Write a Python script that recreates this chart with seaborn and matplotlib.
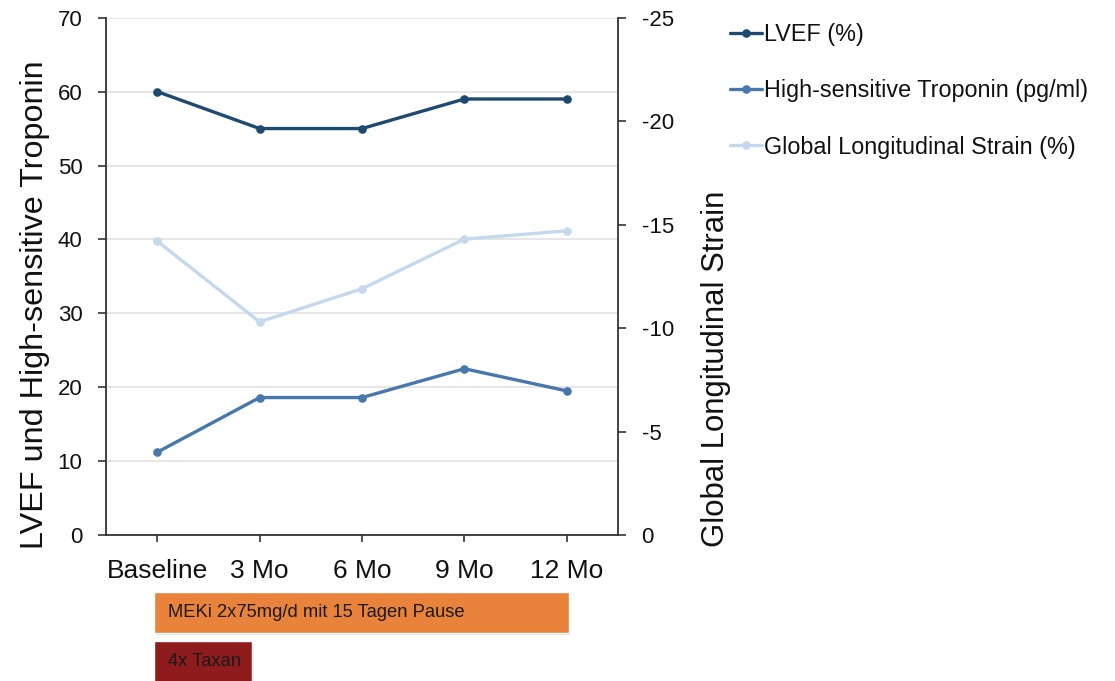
import matplotlib
matplotlib.use("Agg")
import matplotlib.pyplot as plt
import matplotlib.patheffects as pe
import numpy as np
import pandas as pd
import seaborn as sns

# Follow-up time points
timepoints = ["Baseline", "3 Mo", "6 Mo", "9 Mo", "12 Mo"]

# Measurements per time point
lvef = [60, 55, 55, 59, 59]                      # LVEF (%)
troponin = [11.2, 18.6, 18.6, 22.5, 19.5]         # hs-Troponin (pg/ml)
gls = [-14.2, -10.3, -11.9, -14.3, -14.7]         # Global Longitudinal Strain (%)

series_names = ["LVEF (%)", "High-sensitive Troponin (pg/ml)",
                "Global Longitudinal Strain (%)"]
series_colors = ["#1f4a70", "#4878ab", "#c4d8ee"]

# Therapy phases (start / end in time-point units)
therapy_labels = ["MEKi 2x75mg/d mit 15 Tagen Pause", "4x Taxan"]
therapy_start = [-0.03, -0.03]
therapy_end = [4.02, 0.93]
therapy_colors = ["#e9823a", "#8e1c1c"]

sns.set_theme(style="white")
plt.rcParams["font.family"] = ["Liberation Sans", "DejaVu Sans"]
plt.rcParams["axes.unicode_minus"] = False
plt.rcParams["text.color"] = "#111111"
plt.rcParams["axes.labelcolor"] = "#111111"
plt.rcParams["xtick.color"] = "#111111"
plt.rcParams["ytick.color"] = "#111111"

W, H = 1115, 681
fig = plt.figure(figsize=(W / 100, H / 100), dpi=100)

def frac(x0, y0, x1, y1):
    return [x0 / W, 1 - y1 / H, (x1 - x0) / W, (y1 - y0) / H]

ax = fig.add_axes(frac(106, 17.7, 618, 535))
ax2 = ax.twinx()

x = np.arange(len(timepoints))
df_left = pd.DataFrame({
    "t": np.concatenate([x, x]),
    "value": lvef + troponin,
    "series": [series_names[0]] * len(x) + [series_names[1]] * len(x),
})
df_right = pd.DataFrame({"t": x, "value": gls, "series": series_names[2]})

sns.lineplot(data=df_left, x="t", y="value", hue="series",
             palette=series_colors[:2], marker="o", markersize=6.2,
             markeredgewidth=0, linewidth=2.4, ax=ax, legend=False)
sns.lineplot(data=df_right, x="t", y="value", hue="series",
             palette=series_colors[2:], marker="o", markersize=6.2,
             markeredgewidth=0, linewidth=2.4, ax=ax2, legend=False)

# Left axis
ax.set_xlim(-0.5, len(timepoints) - 0.5)
ax.set_ylim(0, 70)
ax.set_yticks(range(0, 71, 10))
ax.set_xticks(x)
ax.set_xticklabels(timepoints)
ax.yaxis.grid(True, color="#e2e2e2", linewidth=1.2)
ax.set_axisbelow(True)
ax.set_xlabel("")
ax.set_ylabel("LVEF und High-sensitive Troponin", fontsize=23.3)
ax.yaxis.set_label_coords(-0.109, 0.445)
ax.tick_params(axis="y", labelsize=16, length=6, width=1.2, color="#333333",
               pad=11, left=True)
ax.tick_params(axis="x", labelsize=19, length=5, width=1.2, color="#333333",
               pad=12, bottom=True)

# Right axis (inverted strain scale)
ax2.set_ylim(0, -25)
ax2.set_yticks([0, -5, -10, -15, -20, -25])
ax2.set_ylabel("Global Longitudinal Strain", fontsize=22.4)
ax2.yaxis.set_label_coords(1.162, 0.321)
ax2.tick_params(axis="y", labelsize=16, length=6, width=1.2, color="#333333",
                pad=11, right=True)
ax2.grid(False)

for a in (ax, ax2):
    a.spines["top"].set_visible(False)
    for side in ("left", "right", "bottom"):
        a.spines[side].set_color("#333333")
        a.spines[side].set_linewidth(1.3)
ax.spines["right"].set_visible(False)
ax2.spines["left"].set_visible(False)
ax2.spines["bottom"].set_visible(False)

# Legend for all three series
handles = ax.get_lines()[:2] + ax2.get_lines()[:1]
fig.legend(handles, series_names, loc="upper left",
           bbox_to_anchor=(721 / W, 1 - 14 / H), frameon=False,
           fontsize=16.8, handlelength=1.35, handletextpad=0.1,
           labelspacing=1.42, borderaxespad=0)

# Therapy timeline below the chart
axb = fig.add_axes(frac(106, 590, 618, 681))
axb.set_xlim(ax.get_xlim())
axb.set_ylim(1.39, -0.45)
bars = axb.barh(range(len(therapy_labels)),
                np.array(therapy_end) - np.array(therapy_start),
                left=therapy_start, height=0.82, color=therapy_colors)
for b in bars:
    b.set_path_effects([pe.SimplePatchShadow(offset=(1.0, -2.0),
                                             shadow_rgbFace="#999999",
                                             alpha=0.3), pe.Normal()])
for i, label in enumerate(therapy_labels):
    axb.text(therapy_start[i] + 0.14, i, label, va="center", ha="left",
             fontsize=13.2, color="#1a1a1a")
axb.axis("off")

fig.savefig("out.png", dpi=100)
